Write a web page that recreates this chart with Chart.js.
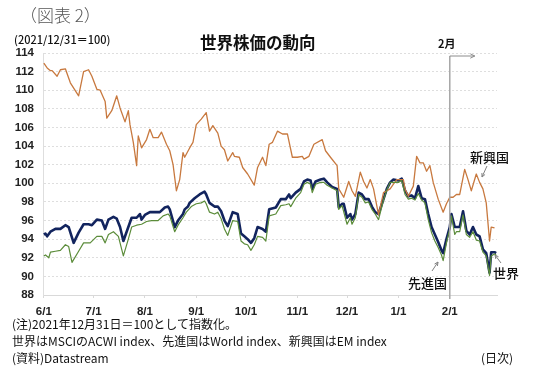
<!DOCTYPE html>
<html><head><meta charset="utf-8">
<script src="https://cdn.jsdelivr.net/npm/chart.js@4/dist/chart.umd.min.js"></script>
<style>
html,body{margin:0;padding:0;background:#fff;}
#wrap{position:relative;width:540px;height:383px;overflow:hidden;}
canvas{position:absolute;left:0;top:0;}
.t{position:absolute;white-space:nowrap;font-family:"Noto Sans CJK JP","Noto Sans",sans-serif;color:#111;line-height:1;}
</style></head>
<body><div id="wrap">
<canvas id="c" width="540" height="383"></canvas>
<div class="t" style="left:20px;top:6px;font-size:17px;color:#555;font-weight:300;">（図表 2）</div>
<div class="t" style="left:14px;top:34px;font-size:11px;font-weight:500;">(2021/12/31＝100)</div>
<div class="t" style="left:200px;top:34px;font-size:16.5px;font-weight:700;">世界株価の動向</div>
<div class="t" style="left:438px;top:38px;font-size:11px;font-weight:700;">2月</div>
<div class="t" style="left:470px;top:150px;font-size:13px;font-weight:500;">新興国</div>
<div class="t" style="left:408px;top:276px;font-size:13px;font-weight:500;">先進国</div>
<div class="t" style="left:493px;top:266px;font-size:13px;font-weight:500;">世界</div>
<div class="t" style="left:12px;top:318px;font-size:12px;">(注)2021年12月31日＝100として指数化。</div>
<div class="t" style="left:12px;top:335px;font-size:12px;">世界はMSCIのACWI index、先進国はWorld index、新興国はEM index</div>
<div class="t" style="left:12px;top:352px;font-size:12px;">(資料)Datastream</div>
<div class="t" style="left:481px;top:352px;font-size:12px;">(日次)</div>
</div>
<script>
// x values: days elapsed since 2022-06-01
const startDate = '2022-06-01';
const monthTickDays = [0, 30, 61, 92, 122, 153, 183, 214, 245];
const monthTickLabels = ['6/1', '7/1', '8/1', '9/1', '10/1', '11/1', '12/1', '1/1', '2/1'];
const yTicks = [88, 90, 92, 94, 96, 98, 100, 102, 104, 106, 108, 110, 112, 114];

// 新興国 (MSCI EM index)
const emDays = [0,2,4,5,8,10,13,16,21,24,27,29,32,34,37,38,41,44,46,49,51,52,54,56,57,59,62,64,66,69,71,74,76,78,80,82,84,85,88,90,92,95,98,100,102,105,107,109,111,114,115,118,120,123,127,129,132,134,136,138,141,144,147,150,153,156,157,160,163,168,170,173,177,178,181,184,186,188,191,193,195,197,199,202,205,209,211,213,217,218,220,223,225,227,229,231,233,235,238,241,243,245,247,249,251,254,256,258,261,263,265,267,269,270,272];
const emValues = [112.9,112.4,112.1,112.1,111.5,112.2,112.3,110.8,109.4,112.0,112.2,111.5,110.1,110.0,108.8,107.0,107.8,109.4,108.1,106.6,107.8,106.3,104.4,101.9,105.1,103.8,104.7,105.8,104.9,104.9,105.5,104.2,103.5,102.0,99.2,100.4,103.3,102.8,103.8,104.4,106.3,106.9,107.6,105.6,106.2,105.4,104.0,103.6,102.4,103.3,102.9,102.8,101.7,101.0,99.8,101.7,102.8,101.9,104.2,104.4,105.6,105.3,105.3,102.8,102.8,102.9,102.6,102.9,104.2,104.7,103.5,102.8,101.9,99.4,98.5,100.2,99.2,98.6,101.2,100.2,99.5,100.4,99.4,96.6,99.0,99.4,99.9,100.4,100.4,99.4,98.6,99.7,102.9,102.2,102.2,101.3,101.9,100.1,98.3,96.9,97.8,98.5,98.5,98.8,98.8,101.5,100.4,99.2,101.0,100.1,99.4,97.9,93.8,95.3,95.2];

// 世界 (MSCI ACWI index)
const worldDays = [0,1,2,4,7,10,13,15,18,21,24,27,29,32,35,37,39,42,44,46,48,51,53,56,58,59,61,64,67,70,73,75,76,79,81,84,85,87,88,91,94,97,98,100,103,105,107,109,111,114,117,119,121,123,125,127,129,132,134,136,140,143,146,148,149,152,155,157,159,161,162,164,167,169,171,174,177,178,180,181,183,185,186,188,190,192,194,196,198,200,202,205,207,209,211,214,216,218,220,222,224,226,228,230,232,234,236,238,240,241,243,245,246,248,249,251,253,255,257,259,261,263,265,267,269,270,272,273];
const worldValues = [94.5,94.6,94.3,94.8,95.1,95.1,95.5,95.3,93.6,94.7,95.6,95.6,95.5,96.1,96.0,95.1,96.1,96.4,96.2,95.3,93.8,95.3,96.3,96.3,96.7,96.1,96.6,96.9,96.9,96.9,97.4,97.5,97.2,95.3,96.0,96.7,97.2,97.5,97.9,98.4,98.8,99.1,98.8,97.9,97.5,97.5,97.0,96.0,95.4,96.9,96.7,94.6,94.3,94.0,93.6,94.1,95.3,95.1,94.8,97.2,97.4,98.3,98.3,98.8,98.4,99.0,99.4,100.2,100.4,100.3,99.4,100.2,100.4,100.5,100.1,99.6,99.4,97.4,97.8,97.8,96.3,96.7,96.1,96.7,99.0,98.8,98.3,98.3,97.5,96.9,96.7,98.3,99.4,100.1,100.4,100.3,100.5,99.2,98.6,98.7,98.4,99.7,98.4,98.3,96.7,95.3,94.5,93.7,92.8,92.5,94.0,95.3,96.7,95.3,95.3,95.3,97.0,94.9,94.5,95.3,94.5,94.3,92.9,92.5,90.4,92.6,92.6,92.5];

// 先進国 (MSCI World index)
const devDays = [0,1,3,4,7,10,13,15,17,21,24,28,32,35,37,39,42,45,48,51,53,56,59,62,65,69,72,75,76,79,81,84,86,89,92,95,97,98,100,103,105,107,109,111,114,117,119,121,123,125,127,129,132,134,136,140,143,146,148,149,152,155,157,159,161,162,164,167,169,171,174,177,178,180,183,185,186,188,190,192,194,196,198,200,202,205,207,209,211,214,216,218,220,222,224,226,228,230,232,234,236,238,240,241,243,245,246,248,249,251,253,255,257,259,261,263,265,267,269,270,272,273];
const devValues = [92.2,92.3,92.0,92.6,92.7,92.8,93.4,93.2,91.5,92.7,93.6,93.6,94.3,94.3,93.6,94.5,94.8,94.3,92.2,94.0,95.3,95.5,95.6,95.9,96.0,96.0,96.5,96.7,96.5,94.8,95.5,96.3,96.9,97.5,97.8,97.9,98.1,97.8,96.9,96.7,96.9,96.2,95.1,94.4,96.0,95.9,93.8,93.5,93.4,92.8,93.4,94.3,94.2,93.8,96.5,96.7,97.6,97.7,97.8,97.5,98.4,99.0,99.9,100.1,99.9,99.0,99.9,100.1,100.1,99.8,99.5,99.2,97.2,97.6,95.6,96.3,95.6,96.3,98.8,98.5,97.9,98.0,97.2,96.7,96.1,98.2,99.3,100.1,100.1,100.1,100.3,98.8,98.3,98.4,98.2,98.9,98.2,97.9,96.1,94.7,93.8,93.1,92.3,91.7,93.6,95.1,96.5,94.5,94.8,94.8,96.6,94.5,94.2,94.8,93.9,93.8,92.6,92.2,90.1,92.2,92.4,92.3];

const toPts = (xs, ys) => xs.map((d, i) => ({x: d, y: ys[i]}));

function arrow(ctx, x1, y1, x2, y2, head) {
  const a = Math.atan2(y2 - y1, x2 - x1);
  ctx.beginPath();
  ctx.moveTo(x1, y1); ctx.lineTo(x2, y2);
  ctx.moveTo(x2 - head * Math.cos(a - 0.45), y2 - head * Math.sin(a - 0.45));
  ctx.lineTo(x2, y2);
  ctx.lineTo(x2 - head * Math.cos(a + 0.45), y2 - head * Math.sin(a + 0.45));
  ctx.stroke();
}

const overlay = {
  id: 'overlay',
  afterDatasetsDraw(chart) {
    const ctx = chart.ctx;
    const xs = chart.scales.x;
    const ya = chart.chartArea;
    const fx = xs.getPixelForValue(245);
    ctx.save();
    ctx.strokeStyle = '#a6a6a6';
    ctx.lineWidth = 1.5;
    ctx.beginPath();
    ctx.moveTo(fx, ya.top + 3);
    ctx.lineTo(fx, ya.bottom + 4);
    ctx.stroke();
    ctx.lineWidth = 1;
    ctx.strokeStyle = '#8c8c8c';
    arrow(ctx, fx, ya.top + 3, fx + 25, ya.top + 3, 5);
    ctx.strokeStyle = '#808080';
    arrow(ctx, 487, 166, 482, 177, 4);
    arrow(ctx, 432, 271, 438, 262, 4);
    arrow(ctx, 501, 263, 495, 255, 4);
    ctx.restore();
  }
};

new Chart(document.getElementById('c'), {
  type: 'line',
  data: {
    datasets: [
      {label: '先進国', data: toPts(devDays, devValues), borderColor: '#5b8c3a', borderWidth: 1.2, order: 1},
      {label: '新興国', data: toPts(emDays, emValues), borderColor: '#c8793f', borderWidth: 1.3, order: 2},
      {label: '世界', data: toPts(worldDays, worldValues), borderColor: '#12245e', borderWidth: 2.6, order: 3}
    ]
  },
  options: {
    responsive: false,
    animation: false,
    events: [],
    layout: {padding: {top: 53, right: 43, bottom: 68, left: 0}},
    elements: {point: {radius: 0}, line: {tension: 0, borderJoinStyle: 'round', fill: false}},
    plugins: {legend: {display: false}, tooltip: {enabled: false}, title: {display: false}},
    scales: {
      x: {
        type: 'linear', min: -0.5, max: 273.5,
        afterBuildTicks(s) { s.ticks = monthTickDays.map(v => ({value: v})); },
        afterFit(s) { s.height = 20; },
        grid: {drawOnChartArea: false, drawTicks: true, tickLength: 3, color: '#d9d9d9'},
        border: {display: true, color: '#d9d9d9', width: 1},
        ticks: {
          autoSkip: false, maxRotation: 0, padding: 7,
          font: {family: '"Liberation Sans", Arial, sans-serif', size: 11.5, weight: 'bold'}, color: '#222',
          callback(v) { const i = monthTickDays.indexOf(v); return i >= 0 ? monthTickLabels[i] : ''; }
        }
      },
      y: {
        min: 88, max: 114,
        afterBuildTicks(s) { s.ticks = yTicks.map(v => ({value: v})); },
        afterFit(s) { s.width = 43; },
        grid: {drawTicks: false, color: '#dedede', lineWidth: 1},
        border: {display: true, color: '#dedede', dash: [2, 2]},
        ticks: {padding: 9, font: {family: '"Liberation Sans", Arial, sans-serif', size: 11.5, weight: 'bold'}, color: '#222'}
      }
    }
  },
  plugins: [overlay]
});
</script>
</body></html>
